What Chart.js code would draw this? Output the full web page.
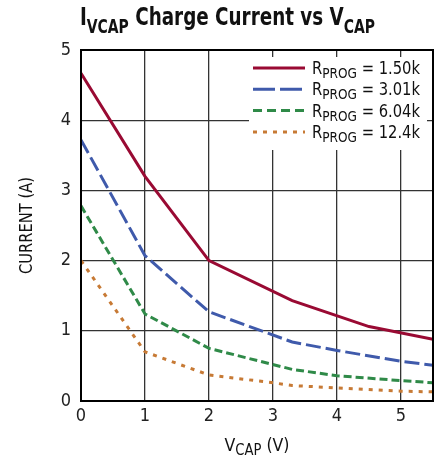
<!DOCTYPE html>
<html><head><meta charset="utf-8">
<script src="https://cdn.jsdelivr.net/npm/chart.js@4"></script>
<style>html,body{margin:0;padding:0;background:#fff;}#wrap{width:444px;height:460px;position:relative;}</style>
</head><body><div id="wrap"><canvas id="c" width="444" height="460"></canvas></div>
<script>
const vcap1 = [0, 1, 2, 3.3, 4.5, 5.5];
const r150k = [4.67, 3.2, 2.0, 1.43, 1.06, 0.88];
const vcap2 = [0, 1, 2, 3.3, 4, 5, 5.5];
const r301k = [3.72, 2.07, 1.27, 0.84, 0.72, 0.565, 0.51];
const vcap3 = [0, 1, 2, 3.3, 4, 5, 5.5];
const r604k = [2.78, 1.24, 0.75, 0.45, 0.36, 0.29, 0.26];
const vcap4 = [0, 1, 2, 3, 3.3, 5, 5.5];
const r124k = [2.0, 0.70, 0.37, 0.26, 0.22, 0.14, 0.13];
const seriesNames = ["1.50k", "3.01k", "6.04k", "12.4k"];
const xTicks = [0, 1, 2, 3, 4, 5];
const yTicks = [0, 1, 2, 3, 4, 5];

const NARROW = '"Liberation Sans Narrow", "DejaVu Sans Condensed", "Roboto Condensed", sans-serif';
const colors = ["#990a33", "#3f5aab", "#2f8a48", "#c77a35"];
const dashes = [[], [15, 5], [8, 4], [4, 6]];

function pts(xs, ys) { return xs.map((x, i) => ({x: x, y: ys[i]})); }

const datasets = [pts(vcap1, r150k), pts(vcap2, r301k), pts(vcap3, r604k), pts(vcap4, r124k)].map((d, i) => ({
  label: "RPROG = " + seriesNames[i], data: d, borderColor: colors[i], borderWidth: 3,
  borderDash: dashes[i], pointRadius: 0, fill: false, tension: 0
}));

// parts: [text, size, dy, bold]; draws text compressed horizontally to targetW
function fitText(ctx, parts, x, y, targetW, align) {
  let total = 0;
  parts.forEach(p => { ctx.font = (p[3] ? "bold " : "") + p[1] + "px " + NARROW; total += ctx.measureText(p[0]).width; });
  const sx = Math.min(1, targetW / total);
  const w = total * sx;
  const startX = align === "center" ? x - w / 2 : x;
  ctx.save();
  ctx.translate(startX, y);
  ctx.scale(sx, 1);
  ctx.textAlign = "left";
  ctx.textBaseline = "alphabetic";
  let cx = 0;
  parts.forEach(p => {
    ctx.font = (p[3] ? "bold " : "") + p[1] + "px " + NARROW;
    ctx.fillText(p[0], cx, p[2]);
    cx += ctx.measureText(p[0]).width;
  });
  ctx.restore();
}

const deco = {
  id: "deco",
  afterDraw(chart) {
    const ctx = chart.ctx, a = chart.chartArea;
    ctx.save();
    ctx.fillStyle = "#111";
    // title
    fitText(ctx, [["I", 25, 0, true], ["VCAP", 19, 8, true], [" Charge Current vs V", 25, 0, true], ["CAP", 19, 8, true]], 80, 25, 295, "left");
    // x title
    fitText(ctx, [["V", 18, 0], ["CAP", 15, 4], [" (V)", 18, 0]], (a.left + a.right) / 2, 451, 65, "center");
    // y title
    ctx.save();
    ctx.translate(32, (a.top + a.bottom) / 2);
    ctx.rotate(-Math.PI / 2);
    fitText(ctx, [["CURRENT (A)", 18, 0]], 0, 0, 97, "center");
    ctx.restore();
    // legend
    ctx.fillStyle = "#fff";
    ctx.fillRect(249, 57, 178, 93);
    for (let i = 0; i < 4; i++) {
      const y = 68 + i * 21.3;
      ctx.beginPath();
      ctx.strokeStyle = colors[i];
      ctx.lineWidth = 3;
      ctx.setLineDash(i === 1 ? [22, 5] : i === 2 ? [9, 5] : i === 3 ? [4, 6] : []);
      ctx.moveTo(253, y); ctx.lineTo(305, y); ctx.stroke();
      ctx.setLineDash([]);
      ctx.fillStyle = "#111";
      fitText(ctx, [["R", 17, 0], ["PROG", 14, 4], [" = " + seriesNames[i], 17, 0]], 312, y + 6, 108, "left");
    }
    // border
    ctx.strokeStyle = "#000";
    ctx.lineWidth = 2;
    ctx.strokeRect(a.left, a.top, a.right - a.left, a.bottom - a.top);
    ctx.restore();
  }
};

new Chart(document.getElementById("c"), {
  type: "line",
  data: { datasets: datasets },
  options: {
    responsive: false, animation: false,
    layout: { padding: { top: 50, right: 11, left: 0, bottom: 0 } },
    plugins: { legend: { display: false }, title: { display: false }, tooltip: { enabled: false } },
    scales: {
      x: {
        type: "linear", min: 0, max: 5.5,
        afterFit(s) { s.height = 59; },
        afterBuildTicks(s) { s.ticks = xTicks.map(v => ({value: v})); },
        grid: { color: "#333", lineWidth: 1.3, drawTicks: false },
        border: { display: false },
        ticks: { color: "#222", padding: 5, font: { family: NARROW, size: 18 } }
      },
      y: {
        type: "linear", min: 0, max: 5,
        afterFit(s) { s.width = 81; },
        afterBuildTicks(s) { s.ticks = yTicks.map(v => ({value: v})); },
        grid: { color: "#333", lineWidth: 1.3, drawTicks: false },
        border: { display: false },
        ticks: { color: "#222", padding: 10, font: { family: NARROW, size: 18 } }
      }
    }
  },
  plugins: [deco]
});
</script></body></html>
